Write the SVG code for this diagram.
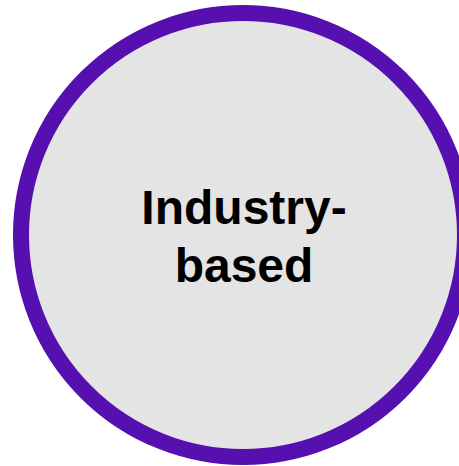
<svg xmlns="http://www.w3.org/2000/svg" width="459" height="466" viewBox="0 0 459 466">
  <style>
    .node-shape { fill: #e4e4e4; stroke: #5710b0; stroke-width: 16; }
    .node-label { font-family: "Liberation Sans", Arial, sans-serif; font-weight: bold; font-size: 48px; fill: #000000; text-anchor: middle; }
  </style>
  <rect width="459" height="466" fill="#ffffff"/>
  <g id="node-industry-based">
    <circle class="node-shape" cx="243" cy="235" r="222"/>
    <text class="node-label" x="244" y="224">Industry-</text>
    <text class="node-label" x="244" y="282">based</text>
  </g>
  <g id="connectors"></g>
</svg>
